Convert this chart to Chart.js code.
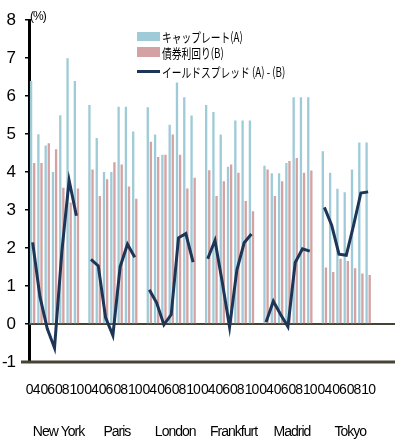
<!DOCTYPE html>
<html>
<head>
<meta charset="utf-8">
<script src="https://cdn.jsdelivr.net/npm/chart.js@4.4.0/dist/chart.umd.min.js"></script>
<style>
  body { margin: 0; background: #fff; }
  #wrap { position: relative; width: 395px; height: 442px; }
  .unit { position: absolute; left: 30px; top: 9px; font-family: 'Liberation Sans', sans-serif; font-size: 12px; letter-spacing: -1px; }
  .item { position: absolute; left: 137px; height: 18px; display: flex; align-items: center; white-space: nowrap; }
  .swatch { width: 23px; height: 9px; margin-right: 2px; flex: none; }
  .txt { font-family: 'Noto Sans CJK JP', sans-serif; font-size: 13px; transform: scaleX(0.75); transform-origin: left center; }
</style>
</head>
<body>
<div id="wrap">
  <canvas id="myChart" width="395" height="442"></canvas>
  <div class="unit">(%)</div>
  <div class="item" style="top:27px"><span class="swatch" style="background:#9fcbd8"></span><span class="txt">キャップレート(A)</span></div>
  <div class="item" style="top:43px"><span class="swatch" style="background:#d4a2a2;height:10px"></span><span class="txt">債券利回り(B)</span></div>
  <div class="item" style="top:62px"><span class="swatch" style="background:#1d3557;height:3px"></span><span class="txt">イールドスプレッド (A) - (B)</span></div>
</div>
<script>
// données (%)
const years = ['04', '05', '06', '07', '08', '09', '10'];
const cities = ['New York', 'Paris', 'London', 'Frankfurt', 'Madrid', 'Tokyo'];
const yTicks = [-1, 0, 1, 2, 3, 4, 5, 6, 7, 8];

// キャップレート(A)
const capRate = [
  [6.4, 5.0, 4.7, 4.0, 5.5, 7.0, 6.4],
  [5.77, 4.9, 4.0, 4.0, 5.72, 5.72, 5.07],
  [5.71, 4.99, 4.46, 5.25, 6.36, 5.97, 5.49],
  [5.77, 5.58, 4.99, 4.14, 5.36, 5.36, 5.36],
  [4.17, 3.97, 3.97, 4.24, 5.97, 5.97, 5.97],
  [4.55, 3.98, 3.56, 3.47, 4.07, 4.78, 4.78]
];
// 債券利回り(B)
const bondYield = [
  [4.24, 4.24, 4.76, 4.6, 3.59, 3.2, 3.57],
  [4.07, 3.37, 3.81, 4.26, 4.2, 3.62, 3.3],
  [4.8, 4.4, 4.46, 4.99, 4.46, 3.57, 3.85],
  [4.05, 3.37, 3.76, 4.2, 3.98, 3.24, 2.97],
  [4.07, 3.37, 3.76, 4.29, 4.37, 3.98, 4.04],
  [1.49, 1.37, 1.72, 1.66, 1.47, 1.33, 1.29]
];
// イールドスプレッド (A) - (B)
const spread = [
  [2.15, 0.72, -0.12, -0.63, 1.9, 3.78, 2.85],
  [1.7, 1.53, 0.17, -0.3, 1.51, 2.1, 1.76],
  [0.9, 0.56, -0.02, 0.25, 2.27, 2.38, 1.63],
  [1.72, 2.2, 1.1, -0.08, 1.42, 2.14, 2.37],
  [0.05, 0.6, 0.25, -0.07, 1.62, 1.98, 1.92],
  [3.07, 2.6, 1.84, 1.81, 2.6, 3.45, 3.48]
];

// une catégorie vide entre chaque ville
const labels = [], yearLabels = [], cityLabels = [];
const capData = [], bondData = [], spreadData = [];
cities.forEach((city, c) => {
  if (c > 0) {
    labels.push(''); yearLabels.push(''); cityLabels.push('');
    capData.push(null); bondData.push(null); spreadData.push(null);
  }
  years.forEach((y, i) => {
    labels.push(city + ' ' + y);
    yearLabels.push(i % 2 === 0 ? y : '');
    cityLabels.push(i === 3 ? city : '');
    capData.push(capRate[c][i]);
    bondData.push(bondYield[c][i]);
    spreadData.push(spread[c][i]);
  });
});

// lignes horizontales à 0 et -1, jusqu'au bord droit
const baseLines = {
  id: 'baseLines',
  beforeUpdate(chart) { chart.ctx.letterSpacing = '-1px'; },
  beforeDraw(chart) { chart.ctx.letterSpacing = '-1px'; },
  beforeDatasetsDraw(chart) {
    const { ctx, chartArea, scales } = chart;
    const y0 = scales.y.getPixelForValue(0);
    ctx.save();
    ctx.strokeStyle = '#474334';
    ctx.lineWidth = 2;
    ctx.beginPath();
    ctx.moveTo(chartArea.left, y0);
    ctx.lineTo(chart.width, y0);
    ctx.stroke();
    ctx.restore();
  },
  afterDraw(chart) {
    const { ctx, chartArea, scales } = chart;
    const yb = scales.y.getPixelForValue(-1);
    ctx.save();
    ctx.strokeStyle = '#474334';
    ctx.lineWidth = 3;
    ctx.beginPath();
    ctx.moveTo(chartArea.left - 8, yb);
    ctx.lineTo(chart.width, yb);
    ctx.stroke();
    ctx.restore();
  }
};

const tickFont = { family: "'Liberation Sans', Arial, sans-serif", size: 14 };

new Chart(document.getElementById('myChart'), {
  data: {
    labels: labels,
    datasets: [
      {
        type: 'line', label: 'イールドスプレッド (A) - (B)', data: spreadData,
        borderColor: '#1d3557', borderWidth: 3, pointRadius: 0, tension: 0,
        spanGaps: false, order: 0
      },
      {
        type: 'bar', label: 'キャップレート(A)', data: capData,
        backgroundColor: '#9fcbd8', categoryPercentage: 0.85, barPercentage: 0.75, order: 1
      },
      {
        type: 'bar', label: '債券利回り(B)', data: bondData,
        backgroundColor: '#d4a2a2', categoryPercentage: 0.85, barPercentage: 0.75, order: 1
      }
    ]
  },
  options: {
    responsive: false,
    animation: false,
    layout: { padding: { top: 19, right: 6, left: 0, bottom: 0 } },
    plugins: { legend: { display: false }, tooltip: { enabled: false } },
    scales: {
      x: {
        offset: true,
        grid: { display: false, drawTicks: false },
        border: { display: false },
        ticks: {
          autoSkip: false, maxRotation: 0, minRotation: 0, padding: 20,
          font: tickFont, color: '#000',
          callback: (v, i) => yearLabels[i]
        },
        afterFit: (s) => { s.height = 40; }
      },
      x2: {
        type: 'category', position: 'bottom', labels: labels, offset: true,
        grid: { display: false, drawTicks: false },
        border: { display: false },
        ticks: {
          autoSkip: false, maxRotation: 0, minRotation: 0, padding: 22, labelOffset: 4,
          font: tickFont, color: '#000',
          callback: (v, i) => cityLabels[i]
        },
        afterFit: (s) => { s.height = 40; }
      },
      y: {
        min: -1, max: 8,
        afterBuildTicks: (s) => { s.ticks = yTicks.map(v => ({ value: v })); },
        ticks: { padding: 10, font: { family: "'Liberation Sans', Arial, sans-serif", size: 17 }, color: '#000' },
        grid: { drawOnChartArea: false, drawTicks: true, tickLength: 4, color: '#000', lineWidth: 1.5 },
        border: { color: '#000', width: 3 },
        afterFit: (s) => { s.width = 29; }
      }
    }
  },
  plugins: [baseLines]
});
</script>
</body>
</html>
